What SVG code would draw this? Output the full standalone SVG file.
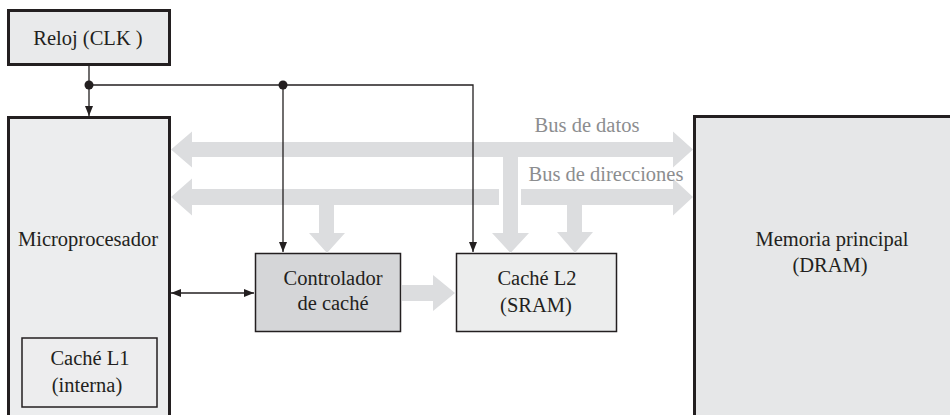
<svg xmlns="http://www.w3.org/2000/svg" width="950" height="415" viewBox="0 0 950 415">
<defs>
<style>
.t{font-family:'Liberation Serif','DejaVu Serif',serif;font-size:20.5px;fill:#231f20;text-anchor:middle}
.bl{font-family:'Liberation Serif','DejaVu Serif',serif;font-size:20.5px;fill:#8c8d8f;text-anchor:middle}
.thick{stroke:#231f20;stroke-width:3}
.thin{stroke:#231f20;stroke-width:1.5}
.ln{stroke:#231f20;stroke-width:1.3;fill:none}
.bus{fill:#dcdddf}
</style>
<marker id="ah" viewBox="0 0 10 10" refX="10" refY="5" markerWidth="10" markerHeight="10" markerUnits="userSpaceOnUse" orient="auto-start-reverse">
<path d="M0,1 L10,5 L0,9 Z" fill="#231f20"/>
</marker>
</defs>
<rect width="950" height="415" fill="#ffffff"/>

<g id="reloj">
<rect x="8.5" y="10.5" width="161" height="54" fill="#e9eaeb" class="thick"/>
<text x="88" y="45" class="t" font-family="Liberation Serif, serif">Reloj (CLK )</text>
</g>

<g id="microprocesador">
<rect x="8.5" y="117.5" width="161" height="310" fill="#ecedee" class="thick"/>
<text x="88" y="246" class="t">Microprocesador</text>
</g>

<g id="cache-l1">
<rect x="22" y="338" width="135" height="69" fill="#ededee" class="thin"/>
<text x="90" y="365" class="t">Caché L1</text>
<text x="87" y="392" class="t">(interna)</text>
</g>

<g id="memoria">
<rect x="694.5" y="116.5" width="270" height="310" fill="#e6e7e8" class="thick"/>
<text x="832" y="246" class="t">Memoria principal</text>
<text x="830" y="272" class="t">(DRAM)</text>
</g>

<g id="controlador">
<rect x="255.5" y="253.5" width="145" height="78" fill="#d5d6d8" class="thin"/>
<text x="333" y="285" class="t">Controlador</text>
<text x="333" y="310" class="t">de caché</text>
</g>

<g id="cache-l2">
<rect x="456.5" y="253.5" width="160" height="78" fill="#eceded" class="thin"/>
<text x="537" y="285" class="t">Caché L2</text>
<text x="536" y="312" class="t">(SRAM)</text>
</g>

<g id="connectors">
<path class="bus" d="M171,149.5 L192,131.5 L192,142 L673,142 L673,131.5 L693,149.5 L673,167.5 L673,157 L518,157 L518,233 L529,233 L510.5,253 L492,233 L503,233 L503,157 L192,157 L192,167.5 Z"/>
<path class="bus" d="M171,197 L192,178.5 L192,189 L499,189 L499,205 L334,205 L334,233 L345,233 L327,253 L309,233 L319,233 L319,205 L192,205 L192,215.5 Z"/>
<path class="bus" d="M521,189 L673,189 L673,178.5 L693,197 L673,215.5 L673,205 L582,205 L582,232 L593,232 L575,253 L557,232 L567,232 L567,205 L521,205 Z"/>
<path class="bus" d="M402,285 L433,285 L433,275 L455,293 L433,311 L433,301 L402,301 Z"/>
<text x="587" y="132" class="bl">Bus de datos</text>
<text x="606" y="181" class="bl">Bus de direcciones</text>

<line x1="89" y1="65" x2="89" y2="116" class="ln" marker-end="url(#ah)"/>
<polyline points="89,85 473,85 473,252" class="ln" marker-end="url(#ah)"/>
<line x1="283" y1="85" x2="283" y2="252" class="ln" marker-end="url(#ah)"/>
<circle cx="89" cy="85" r="4.5" fill="#231f20"/>
<circle cx="283" cy="85" r="4.5" fill="#231f20"/>
<line x1="171" y1="293" x2="254" y2="293" class="ln" marker-start="url(#ah)" marker-end="url(#ah)"/>
</g>
</svg>
